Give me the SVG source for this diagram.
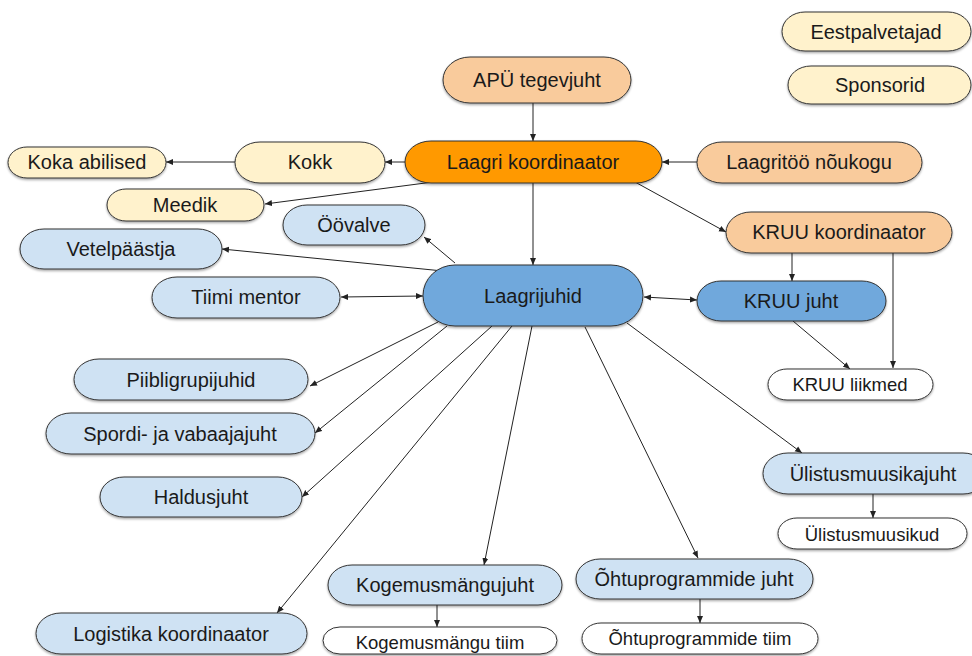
<svg xmlns="http://www.w3.org/2000/svg" width="972" height="656" viewBox="0 0 972 656">
<defs>
<marker id="arr" markerUnits="userSpaceOnUse" markerWidth="8" markerHeight="7" refX="7" refY="3.5" orient="auto-start-reverse">
<path d="M0,0.5 L7,3.5 L0,6.5 z" fill="#222"/>
</marker>
<filter id="sh" x="-10%" y="-20%" width="120%" height="150%">
<feDropShadow dx="0" dy="1.5" stdDeviation="1" flood-color="#000" flood-opacity="0.35"/>
</filter>
</defs>
<style>
.n rect{stroke:#333;stroke-width:1;filter:url(#sh)}
.n text{font-family:"Liberation Sans",Arial,sans-serif;font-size:20px;fill:#1a1a1a;text-anchor:middle;dominant-baseline:central}
.n.s text{font-size:18.5px}
.or rect{fill:#ff9900}
.pe rect{fill:#f9cb9c}
.ye rect{fill:#fff2cc}
.lb rect{fill:#cfe2f3}
.mb rect{fill:#6fa8dc}
.wh rect{fill:#ffffff}
#edges line{stroke:#222;stroke-width:1;fill:none;marker-end:url(#arr)}
#edges line.both{marker-start:url(#arr)}
</style>
<rect width="972" height="656" fill="#ffffff"/>
<g id="edges">
<line x1="533" y1="103" x2="533" y2="141"/>
<line x1="697" y1="162" x2="662" y2="162"/>
<line x1="405" y1="162" x2="385" y2="162"/>
<line x1="235" y1="162" x2="166" y2="162"/>
<line x1="433" y1="182" x2="265" y2="204"/>
<line x1="533" y1="183" x2="533" y2="265"/>
<line x1="635" y1="182" x2="726" y2="232"/>
<line x1="455" y1="263" x2="424" y2="237"/>
<line x1="443" y1="271" x2="222" y2="249"/>
<line class="both" x1="341" y1="297" x2="423" y2="296"/>
<line x1="438" y1="322" x2="310" y2="386"/>
<line x1="447" y1="326" x2="315" y2="433"/>
<line x1="492" y1="326" x2="302" y2="497"/>
<line x1="512" y1="326" x2="277" y2="613"/>
<line x1="532" y1="326" x2="484" y2="565"/>
<line x1="585" y1="327" x2="698" y2="558"/>
<line x1="627" y1="323" x2="802" y2="453"/>
<line class="both" x1="644" y1="297" x2="697" y2="300"/>
<line x1="792" y1="253" x2="792" y2="281"/>
<line x1="893" y1="253" x2="893" y2="368"/>
<line x1="793" y1="321" x2="850" y2="369"/>
<line x1="873" y1="494" x2="873" y2="518"/>
<line x1="437" y1="604" x2="437" y2="627"/>
<line x1="700" y1="599" x2="700" y2="623"/>
</g>
<g id="eestpalvetajad" class="n ye"><rect x="782" y="12" width="189" height="39" rx="23" ry="19.5"/><text x="876" y="32">Eestpalvetajad</text></g>
<g id="sponsorid" class="n ye"><rect x="788" y="66" width="183" height="38" rx="23" ry="19"/><text x="880" y="85">Sponsorid</text></g>
<g id="apu" class="n pe"><rect x="443" y="57" width="188" height="46" rx="27" ry="23"/><text x="537" y="80">APÜ tegevjuht</text></g>
<g id="laagri-koordinaator" class="n or"><rect x="405" y="141" width="257" height="42" rx="26" ry="21"/><text x="533" y="162">Laagri koordinaator</text></g>
<g id="laagritoo-noukogu" class="n pe"><rect x="697" y="142" width="225" height="41" rx="25" ry="20.5"/><text x="809" y="162">Laagritöö nõukogu</text></g>
<g id="kokk" class="n ye"><rect x="235" y="142" width="150" height="41" rx="25" ry="20.5"/><text x="310" y="162">Kokk</text></g>
<g id="koka-abilised" class="n ye"><rect x="8" y="147" width="158" height="31" rx="19" ry="15.5"/><text x="87" y="162">Koka abilised</text></g>
<g id="meedik" class="n ye"><rect x="107" y="189" width="157" height="32" rx="19" ry="16"/><text x="185" y="205">Meedik</text></g>
<g id="oovalve" class="n lb"><rect x="283" y="205" width="142" height="40" rx="24" ry="20"/><text x="354" y="225">Öövalve</text></g>
<g id="vetelpaastja" class="n lb"><rect x="20" y="229" width="202" height="40" rx="24" ry="20"/><text x="121" y="249">Vetelpäästja</text></g>
<g id="kruu-koordinaator" class="n pe"><rect x="726" y="212" width="226" height="41" rx="25" ry="20.5"/><text x="839" y="232">KRUU koordinaator</text></g>
<g id="laagrijuhid" class="n mb"><rect x="423" y="265" width="220" height="61" rx="32" ry="30.5"/><text x="533" y="296">Laagrijuhid</text></g>
<g id="tiimi-mentor" class="n lb"><rect x="152" y="277" width="188" height="41" rx="25" ry="20.5"/><text x="246" y="297">Tiimi mentor</text></g>
<g id="kruu-juht" class="n mb"><rect x="697" y="281" width="189" height="40" rx="24" ry="20"/><text x="791" y="301">KRUU juht</text></g>
<g id="kruu-liikmed" class="n s wh"><rect x="768" y="369" width="165" height="31" rx="19" ry="15.5"/><text x="850" y="384">KRUU liikmed</text></g>
<g id="piibligrupijuhid" class="n lb"><rect x="74" y="359" width="234" height="41" rx="25" ry="20.5"/><text x="191" y="380">Piibligrupijuhid</text></g>
<g id="spordi" class="n lb"><rect x="46" y="413" width="269" height="41" rx="25" ry="20.5"/><text x="180" y="434">Spordi- ja vabaajajuht</text></g>
<g id="haldusjuht" class="n lb"><rect x="100" y="477" width="202" height="40" rx="24" ry="20"/><text x="201" y="497">Haldusjuht</text></g>
<g id="ylistusmuusikajuht" class="n lb"><rect x="763" y="453" width="225" height="41" rx="25" ry="20.5"/><text x="873" y="474">Ülistusmuusikajuht</text></g>
<g id="ylistusmuusikud" class="n s wh"><rect x="778" y="518" width="189" height="31" rx="19" ry="15.5"/><text x="872" y="534">Ülistusmuusikud</text></g>
<g id="kogemusmangujuht" class="n lb"><rect x="328" y="565" width="234" height="40" rx="24" ry="20"/><text x="445" y="585">Kogemusmängujuht</text></g>
<g id="kogemusmangu-tiim" class="n s wh"><rect x="323" y="627" width="234" height="27" rx="17" ry="13.5"/><text x="440" y="642">Kogemusmängu tiim</text></g>
<g id="ohtuprogrammide-juht" class="n lb"><rect x="576" y="559" width="237" height="40" rx="24" ry="20"/><text x="694" y="579">Õhtuprogrammide juht</text></g>
<g id="ohtuprogrammide-tiim" class="n s wh"><rect x="582" y="623" width="236" height="31" rx="19" ry="15.5"/><text x="700" y="638">Õhtuprogrammide tiim</text></g>
<g id="logistika" class="n lb"><rect x="36" y="613" width="271" height="41" rx="25" ry="20.5"/><text x="171" y="634">Logistika koordinaator</text></g>
</svg>
